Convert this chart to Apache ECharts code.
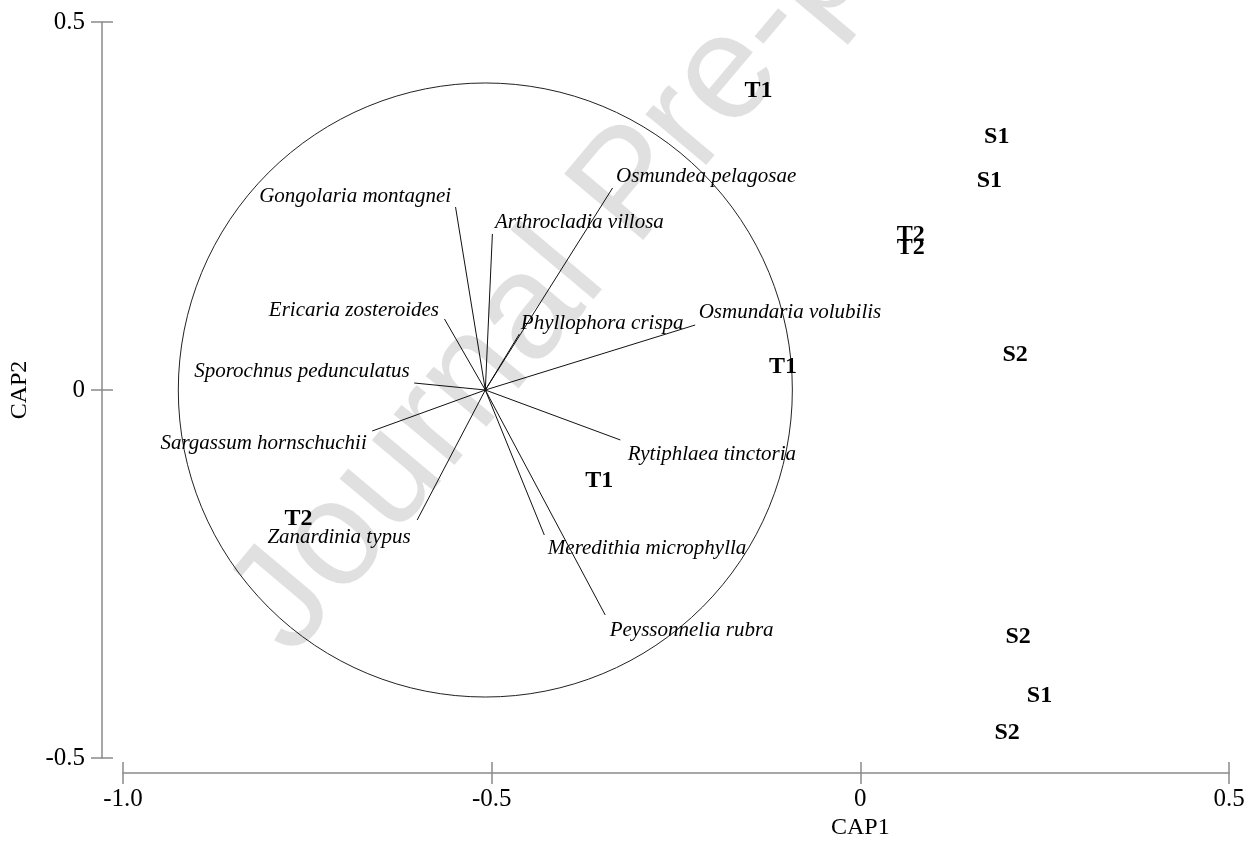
<!DOCTYPE html>
<html>
<head>
<meta charset="utf-8">
<script src="https://cdn.jsdelivr.net/npm/echarts@6/dist/echarts.min.js"></script>
<style>
html,body{margin:0;padding:0;background:#fff;}
#chart{width:1252px;height:843px;}
</style>
</head>
<body>
<div id="chart"></div>
<script>
// ---- data ----
const xTicks = [-1.0, -0.5, 0, 0.5];
const yTicks = [-0.5, 0, 0.5];
const axisNames = ['CAP1', 'CAP2'];

const sampleLabels = ['T1', 'S1', 'S1', 'T2', 'T2', 'T1', 'S2', 'T1', 'T2', 'S2', 'S1', 'S2'];
const sampleX = [-0.138, 0.185, 0.175, 0.0685, 0.0685, -0.105, 0.210, -0.354, -0.762, 0.214, 0.243, 0.199];
const sampleY = [0.406, 0.344, 0.284, 0.2106, 0.1929, 0.031, 0.048, -0.124, -0.175, -0.336, -0.416, -0.466];

const speciesNames = [
  'Gongolaria montagnei', 'Arthrocladia villosa', 'Osmundea pelagosae', 'Ericaria zosteroides',
  'Phyllophora crispa', 'Osmundaria volubilis', 'Sporochnus pedunculatus', 'Sargassum hornschuchii',
  'Rytiphlaea tinctoria', 'Zanardinia typus', 'Meredithia microphylla', 'Peyssonnelia rubra'
];
const speciesX = [-0.549, -0.499, -0.336, -0.564, -0.4625, -0.224, -0.605, -0.662, -0.3255, -0.601, -0.4286, -0.346];
const speciesY = [0.2486, 0.212, 0.2745, 0.0965, 0.0761, 0.0883, 0.0095, -0.0557, -0.0679, -0.1766, -0.197, -0.3057];

const vectorOrigin = [-0.5086, 0];
const circleRadius = 0.4164;

const watermarkText = 'Journal Pre-proof';

// ---- label layout (style only) : [align, dx, dy] ----
const speciesLabelLayout = [
  ['right', -4, -10], ['left', 3, -11], ['left', 4, -11], ['right', -5, -8],
  ['left', 2, -10], ['left', 4, -12], ['right', -4, -11], ['right', -5, 13],
  ['left', 8, 15], ['right', -6, 18], ['left', 4, 14], ['left', 5, 16]
];

const SERIF = "'Liberation Serif', 'Times New Roman', serif";
const AXIS_COLOR = '#8a8a8a';
const fmt = v => (v === 0 ? '0' : v.toFixed(1));

const chart = echarts.init(document.getElementById('chart'), null, {renderer: 'canvas'});

function axisPair(ticks, pos, off, margin) {
  const base = {
    type: 'value', min: ticks[0], max: ticks[ticks.length - 1], interval: ticks[1] - ticks[0],
    position: pos, offset: off, splitLine: {show: false}
  };
  return [
    Object.assign({}, base, {
      axisLine: {show: true, onZero: false, lineStyle: {color: AXIS_COLOR, width: 1.5}},
      axisTick: {show: true, inside: false, length: 11, lineStyle: {color: AXIS_COLOR, width: 1.5}},
      axisLabel: {show: true, margin: margin, color: '#000', fontFamily: SERIF, fontSize: 25,
        formatter: fmt, showMinLabel: true, showMaxLabel: true}
    }),
    Object.assign({}, base, {
      axisLine: {show: false, onZero: false},
      axisTick: {show: true, inside: true, length: 11, lineStyle: {color: AXIS_COLOR, width: 1.5}},
      axisLabel: {show: false}
    })
  ];
}

const vectorData = speciesNames.map((n, i) => ({
  name: n,
  coords: [[vectorOrigin[0], vectorOrigin[1]], [speciesX[i], speciesY[i]]]
}));

const speciesPoints = speciesNames.map((n, i) => ({
  name: n,
  value: [speciesX[i], speciesY[i]],
  label: {
    position: [speciesLabelLayout[i][1], speciesLabelLayout[i][2]],
    align: speciesLabelLayout[i][0],
    verticalAlign: 'middle'
  }
}));

const samplePoints = sampleLabels.map((n, i) => ({name: n, value: [sampleX[i], sampleY[i]]}));

chart.setOption({
  animation: false,
  backgroundColor: '#fff',
  grid: {left: 123, right: 23, top: 22, bottom: 85, containLabel: false},
  xAxis: axisPair(xTicks, 'bottom', 15, 14),
  yAxis: axisPair(yTicks, 'left', 21, 17),
  series: [
    {
      type: 'custom', name: 'circle', clip: false, silent: true,
      data: [[vectorOrigin[0], vectorOrigin[1], circleRadius]],
      renderItem: function (params, api) {
        const c = api.coord([api.value(0), api.value(1)]);
        const r = api.size([api.value(2), 0])[0];
        return {type: 'circle', shape: {cx: c[0], cy: c[1], r: r},
          style: {fill: 'none', stroke: '#222', lineWidth: 1}};
      }
    },
    {
      type: 'lines', coordinateSystem: 'cartesian2d', silent: true,
      lineStyle: {color: '#111', width: 1, opacity: 1},
      data: vectorData
    },
    {
      type: 'scatter', name: 'species', symbol: 'circle', symbolSize: 1,
      itemStyle: {color: 'rgba(0,0,0,0)'}, silent: true, clip: false,
      label: {show: true, formatter: '{b}', color: '#000', opacity: 1, textBorderWidth: 0,
        fontFamily: SERIF, fontStyle: 'italic', fontSize: 21},
      labelLayout: {hideOverlap: false},
      data: speciesPoints
    },
    {
      type: 'scatter', name: 'samples', symbol: 'circle', symbolSize: 1,
      itemStyle: {color: 'rgba(0,0,0,0)'}, silent: true, clip: false,
      label: {show: true, position: 'inside', offset: [0, 2], formatter: '{b}', color: '#000',
        opacity: 1, textBorderWidth: 0, fontFamily: SERIF,
        fontWeight: 'bold', fontSize: 24, align: 'center', verticalAlign: 'middle'},
      labelLayout: {hideOverlap: false},
      data: samplePoints
    }
  ]
});

const p0 = chart.convertToPixel({gridIndex: 0}, [0, 0]);
chart.setOption({
  graphic: [
    {type: 'text', x: p0[0], y: 828, silent: true,
      style: {text: axisNames[0], fill: '#000', font: "24px " + SERIF, textAlign: 'center', textVerticalAlign: 'middle'}},
    {type: 'text', x: 20, y: p0[1], rotation: Math.PI / 2, silent: true,
      style: {text: axisNames[1], fill: '#000', font: "24px " + SERIF, textAlign: 'center', textVerticalAlign: 'middle'}},
    {type: 'text', x: 318, y: 680, rotation: 50 * Math.PI / 180, z: 100, silent: true,
      style: {text: watermarkText, fill: 'rgba(0,0,0,0.12)', font: "150px 'Liberation Sans', Arial, sans-serif",
        textAlign: 'left', textVerticalAlign: 'bottom'}}
  ]
});
</script>
</body>
</html>
